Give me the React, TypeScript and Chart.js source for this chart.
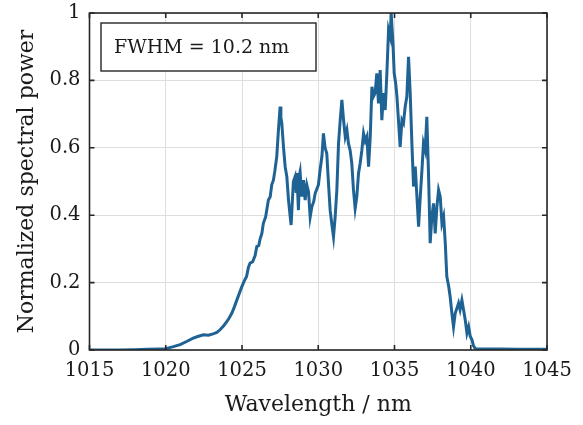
import React, { useEffect, useRef } from "react";
import { Chart, registerables } from "chart.js";

Chart.register(...registerables);

const wavelengths: number[] = [
  1015, 1016, 1017, 1018, 1018.8, 1019.5, 1020.0, 1020.5, 1020.94, 1021.4, 1021.8, 1022.1, 1022.47, 1022.8,
  1023.1, 1023.35, 1023.56, 1023.8, 1024.0, 1024.15, 1024.33, 1024.5, 1024.66, 1024.8, 1024.99, 1025.15,
  1025.3, 1025.42, 1025.53, 1025.7, 1025.86, 1025.97, 1026.1, 1026.19, 1026.3, 1026.4, 1026.55, 1026.73,
  1026.85, 1026.95, 1027.06, 1027.15, 1027.28, 1027.39, 1027.5, 1027.55, 1027.61, 1027.72, 1027.83, 1027.94,
  1028.05, 1028.16, 1028.22, 1028.3, 1028.37, 1028.48, 1028.55, 1028.6, 1028.7, 1028.77, 1028.81, 1028.92,
  1029.03, 1029.14, 1029.25, 1029.36, 1029.47, 1029.58, 1029.7, 1029.8, 1030.01, 1030.12,
  1030.24, 1030.34, 1030.45, 1030.56, 1030.67, 1030.78, 1030.9, 1031.0, 1031.11,
  1031.22, 1031.33, 1031.44, 1031.55, 1031.66, 1031.77, 1031.88, 1031.98, 1032.09, 1032.2, 1032.31, 1032.42,
  1032.53, 1032.64, 1032.75, 1032.86, 1032.97, 1033.08, 1033.19, 1033.3, 1033.41, 1033.52, 1033.62, 1033.73,
  1033.84, 1033.95, 1034.06, 1034.17, 1034.28, 1034.39, 1034.5, 1034.61, 1034.72, 1034.78, 1034.9, 1034.98,
  1035.08, 1035.16, 1035.26, 1035.37, 1035.49, 1035.59, 1035.7, 1035.81, 1035.92, 1036.03, 1036.14, 1036.25,
  1036.36, 1036.47, 1036.58, 1036.69, 1036.8, 1036.9, 1037.01, 1037.12, 1037.23, 1037.34, 1037.45, 1037.56,
  1037.67, 1037.78, 1037.89, 1038.0, 1038.11, 1038.22, 1038.33, 1038.43, 1038.55, 1038.65, 1038.76, 1038.87,
  1038.98, 1039.1, 1039.2, 1039.3, 1039.42, 1039.53, 1039.64, 1039.75, 1039.86, 1039.97, 1040.08, 1040.18,
  1040.3, 1041, 1042, 1043, 1044, 1045,
];

const power: number[] = [
  0, 0, 0, 0.001, 0.002, 0.003, 0.004, 0.01, 0.016, 0.026, 0.035, 0.04, 0.045, 0.044,
  0.048, 0.052, 0.06, 0.072, 0.084, 0.094, 0.109, 0.128, 0.148, 0.165, 0.188, 0.205,
  0.218, 0.245, 0.258, 0.262, 0.28, 0.307, 0.31, 0.33, 0.345, 0.376, 0.395, 0.445,
  0.455, 0.49, 0.504, 0.53, 0.574, 0.653, 0.722, 0.69, 0.673, 0.603, 0.544, 0.514,
  0.445, 0.396, 0.371, 0.44, 0.5, 0.514, 0.47, 0.525, 0.415, 0.52, 0.529, 0.455,
  0.504, 0.445, 0.49, 0.47, 0.395, 0.425, 0.44, 0.465, 0.49, 0.534,
  0.574, 0.643, 0.6, 0.583, 0.495, 0.415, 0.37, 0.336, 0.396,
  0.475, 0.613, 0.682, 0.742, 0.682, 0.633, 0.653, 0.613, 0.593, 0.554, 0.475, 0.42,
  0.455, 0.524, 0.554, 0.593, 0.643, 0.62, 0.633, 0.544, 0.633, 0.781, 0.752, 0.762,
  0.821, 0.732, 0.831, 0.682, 0.762, 0.712, 0.821, 0.95, 0.93, 1.0, 0.91, 0.821,
  0.79, 0.752, 0.682, 0.603, 0.682, 0.673, 0.722, 0.752, 0.87, 0.762, 0.613, 0.485,
  0.544, 0.455, 0.366, 0.455, 0.534, 0.613, 0.593, 0.692, 0.524, 0.317, 0.396, 0.435,
  0.346, 0.425, 0.475, 0.455, 0.376, 0.396, 0.317, 0.218, 0.19, 0.158, 0.11, 0.069,
  0.109, 0.125, 0.139, 0.12, 0.148, 0.119, 0.089, 0.05, 0.069, 0.04, 0.03, 0.012,
  0.004, 0.003, 0.003, 0.002, 0.002, 0.002,
];

const xTicks: number[] = [1015, 1020, 1025, 1030, 1035, 1040, 1045];
const yTicks: number[] = [0, 0.2, 0.4, 0.6, 0.8, 1];
const xTitle = "Wavelength / nm";
const yTitle = "Normalized spectral power";
const annotation = "FWHM = 10.2 nm";

const FONT = "'DejaVu Serif', serif";

const framePlugin = {
  id: "frame",
  afterDatasetsDraw(chart: any) {
    const { ctx, chartArea } = chart;
    const { left, right, top, bottom } = chartArea;
    const xs = chart.scales.x;
    const ys = chart.scales.y;
    ctx.save();
    ctx.strokeStyle = "#262626";
    ctx.lineWidth = 1.6;
    ctx.strokeRect(left, top, right - left, bottom - top);
    const tl = 5;
    ctx.beginPath();
    for (const t of xTicks) {
      const px = xs.getPixelForValue(t);
      ctx.moveTo(px, bottom);
      ctx.lineTo(px, bottom - tl);
      ctx.moveTo(px, top);
      ctx.lineTo(px, top + tl);
    }
    for (const t of yTicks) {
      const py = ys.getPixelForValue(t);
      ctx.moveTo(left, py);
      ctx.lineTo(left + tl, py);
      ctx.moveTo(right, py);
      ctx.lineTo(right - tl, py);
    }
    ctx.stroke();

    // annotation box
    const bx = left + 11.5;
    const by = top + 10;
    const bw = 215;
    const bh = 48;
    ctx.fillStyle = "#ffffff";
    ctx.fillRect(bx, by, bw, bh);
    ctx.lineWidth = 1.4;
    ctx.strokeStyle = "#262626";
    ctx.strokeRect(bx, by, bw, bh);
    ctx.fillStyle = "#1a1a1a";
    ctx.font = "19px " + FONT;
    ctx.textBaseline = "middle";
    ctx.textAlign = "left";
    ctx.fillText(annotation, bx + 13, by + bh / 2 + 1);
    ctx.restore();
  },
};

export default function App() {
  const ref = useRef<HTMLCanvasElement | null>(null);
  useEffect(() => {
    if (!ref.current) return;
    const data = wavelengths.map((x, i) => ({ x, y: power[i] }));
    const chart = new Chart(ref.current, {
      type: "line",
      data: {
        datasets: [
          {
            data,
            borderColor: "#1f6394",
            borderWidth: 3,
            pointRadius: 0,
            tension: 0,
            fill: false,
          },
        ],
      },
      options: {
        animation: false,
        responsive: false,
        events: [],
        layout: { padding: { top: 13, right: 36, left: 0, bottom: 0 } },
        plugins: { legend: { display: false }, tooltip: { enabled: false } },
        scales: {
          x: {
            type: "linear",
            min: 1015,
            max: 1045,
            afterBuildTicks: (s: any) => {
              s.ticks = xTicks.map((v) => ({ value: v }));
            },
            afterFit: (s: any) => {
              s.height = 75;
              s.paddingLeft = 0;
              s.paddingRight = 0;
            },
            ticks: {
              color: "#1a1a1a",
              font: { family: FONT, size: 19.5 },
              padding: 9,
              maxRotation: 0,
              callback: (v: any) => String(v),
            },
            grid: { color: "#dedede", lineWidth: 1, drawTicks: false },
            border: { display: false },
            title: {
              display: true,
              text: xTitle,
              color: "#1a1a1a",
              font: { family: FONT, size: 22 },
              padding: { top: 0, bottom: 7 },
            },
          },
          y: {
            type: "linear",
            min: 0,
            max: 1,
            afterBuildTicks: (s: any) => {
              s.ticks = yTicks.map((v) => ({ value: v }));
            },
            afterFit: (s: any) => {
              s.width = 89.5;
              s.paddingTop = 0;
              s.paddingBottom = 0;
            },
            ticks: {
              color: "#1a1a1a",
              font: { family: FONT, size: 19.5 },
              padding: 9,
              callback: (v: any) => String(Math.round(v * 10) / 10),
            },
            grid: { color: "#dedede", lineWidth: 1, drawTicks: false },
            border: { display: false },
            title: {
              display: true,
              text: yTitle,
              color: "#1a1a1a",
              font: { family: FONT, size: 22 },
              padding: { top: 14, bottom: 0 },
            },
          },
        },
      },
      plugins: [framePlugin],
    });
    return () => chart.destroy();
  }, []);
  return (
    <div style={{ position: "absolute", left: 0, top: 0, width: 583, height: 425, background: "#fff" }}>
      <canvas ref={ref} width={583} height={425} style={{ width: 583, height: 425 }} />
    </div>
  );
}
